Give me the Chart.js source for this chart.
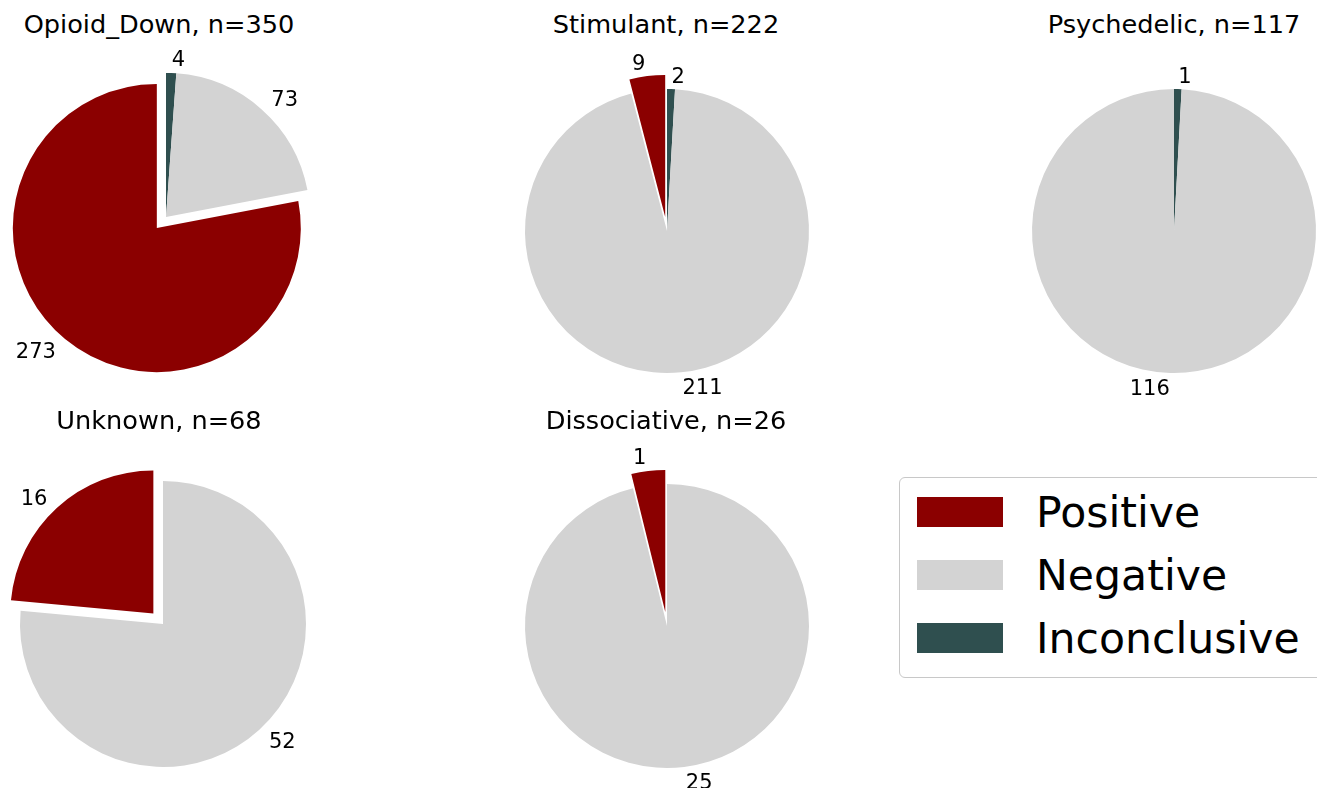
<!DOCTYPE html>
<html>
<head>
<meta charset="utf-8">
<title>Test results by drug class</title>
<script src="https://cdn.jsdelivr.net/npm/chart.js@4.4.1/dist/chart.umd.min.js"></script>
<style>
  html, body { margin: 0; padding: 0; background: #fff; }
  body { width: 1317px; height: 788px; position: relative; overflow: hidden; font-family: "DejaVu Sans", sans-serif; color: #000; }
  .pie { position: absolute; }
  .title { position: absolute; width: 440px; text-align: center; font-size: 25.6px; line-height: 26px; white-space: nowrap; }
  .legend { position: absolute; left: 899px; top: 477px; width: 440px; height: 201px; box-sizing: border-box; border: 1.5px solid #c8c8c8; border-radius: 6px; background: #fff; }
  .legend-row { position: absolute; left: 0; height: 30px; }
  .legend-swatch { position: absolute; left: 17px; top: 0; width: 86px; height: 30px; }
  .legend-text { position: absolute; left: 136px; top: 0; font-size: 42.6px; line-height: 30px; white-space: nowrap; }
</style>
</head>
<body>
<div id="legend" class="legend"></div>
<script>
const groups = ["Opioid_Down", "Stimulant", "Psychedelic", "Unknown", "Dissociative"];
const results = ["Positive", "Negative", "Inconclusive"];
const positiveCounts = [273, 9, 0, 16, 1];
const negativeCounts = [73, 211, 116, 52, 25];
const inconclusiveCounts = [4, 2, 1, 0, 0];

const resultColors = { Positive: "#8b0000", Negative: "#d3d3d3", Inconclusive: "#2f4f4f" };
const explodeBy = { Positive: 0.1, Negative: 0, Inconclusive: 0 };

// slices go clockwise from 12 o'clock in this order
const sliceOrder = ["Inconclusive", "Negative", "Positive"];

// where each pie sits on the page (centre + radius) and its title
const panels = [
  { cx: 165.7, cy: 216.7, r: 144, titleX: 159, titleY: 33 },
  { cx: 666.5, cy: 230.5, r: 142, titleX: 666, titleY: 33 },
  { cx: 1174, cy: 231, r: 142, titleX: 1174, titleY: 33 },
  { cx: 162.7, cy: 624.3, r: 143, titleX: 159, titleY: 428.5 },
  { cx: 666.5, cy: 625.5, r: 142, titleX: 666, titleY: 428.5 },
];
const CANVAS_SIZE = 440;
const LABEL_FONT = 21;

function countsFor(i) {
  return {
    Positive: positiveCounts[i],
    Negative: negativeCounts[i],
    Inconclusive: inconclusiveCounts[i],
  };
}

const explodePlugin = {
  id: "explodeSlices",
  afterDatasetsUpdate(chart) {
    const { left, right, top, bottom } = chart.chartArea;
    const cx = (left + right) / 2;
    const cy = (top + bottom) / 2;
    chart.getDatasetMeta(0).data.forEach((arc, i) => {
      const frac = explodeBy[sliceOrder[i]] || 0;
      const mid = (arc.startAngle + arc.endAngle) / 2;
      arc.x = cx + Math.cos(mid) * frac * arc.outerRadius;
      arc.y = cy + Math.sin(mid) * frac * arc.outerRadius;
    });
  },
};

const countLabels = {
  id: "countLabels",
  afterDatasetsDraw(chart) {
    const { ctx } = chart;
    const values = chart.data.datasets[0].data;
    ctx.save();
    ctx.font = `${LABEL_FONT}px "DejaVu Sans"`;
    ctx.fillStyle = "#000";
    ctx.textBaseline = "alphabetic";
    chart.getDatasetMeta(0).data.forEach((arc, i) => {
      if (!values[i]) return;
      const mid = (arc.startAngle + arc.endAngle) / 2;
      const dist = arc.outerRadius * 1.1;
      const x = arc.x + Math.cos(mid) * dist;
      const y = arc.y + Math.sin(mid) * dist;
      ctx.textAlign = Math.cos(mid) > 0 ? "left" : "right";
      ctx.fillText(String(values[i]), x, y + LABEL_FONT * 0.364);
    });
    ctx.restore();
  },
};

groups.forEach((group, i) => {
  const panel = panels[i];
  const counts = countsFor(i);
  const total = counts.Positive + counts.Negative + counts.Inconclusive;

  const title = document.createElement("div");
  title.className = "title";
  title.textContent = `${group}, n=${total}`;
  title.style.left = `${panel.titleX - 220}px`;
  title.style.top = `${panel.titleY - 22}px`;
  document.body.appendChild(title);

  const canvas = document.createElement("canvas");
  canvas.className = "pie";
  canvas.width = CANVAS_SIZE;
  canvas.height = CANVAS_SIZE;
  canvas.style.left = `${panel.cx - CANVAS_SIZE / 2}px`;
  canvas.style.top = `${panel.cy - CANVAS_SIZE / 2}px`;
  document.body.appendChild(canvas);

  new Chart(canvas, {
    type: "pie",
    data: {
      labels: sliceOrder,
      datasets: [{
        data: sliceOrder.map((key) => counts[key]),
        backgroundColor: sliceOrder.map((key) => resultColors[key]),
        borderWidth: 0,
        radius: panel.r,
      }],
    },
    options: {
      responsive: false,
      animation: false,
      devicePixelRatio: 1,
      events: [],
      layout: { padding: 0 },
      plugins: {
        legend: { display: false },
        tooltip: { enabled: false },
        title: { display: false },
      },
    },
    plugins: [explodePlugin, countLabels],
  });
});

document.getElementById("legend").innerHTML = results.map((name, i) => `
  <div class="legend-row" style="top:${18.5 + i * 63.2}px">
    <span class="legend-swatch" style="background:${resultColors[name]}"></span>
    <span class="legend-text">${name}</span>
  </div>
`).join("");
</script>
</body>
</html>
